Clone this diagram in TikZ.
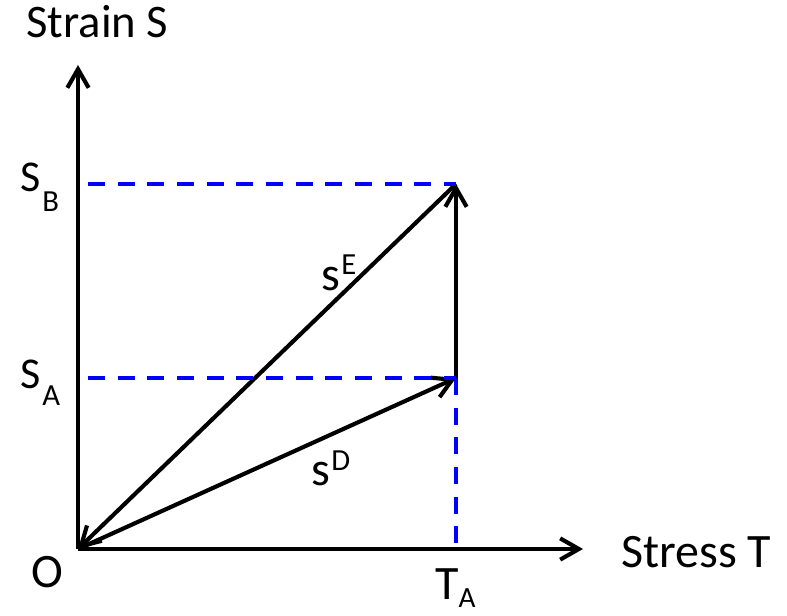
\documentclass[tikz,border=0pt]{standalone}
\usepackage{fontspec}
\setmainfont{Carlito}
\usetikzlibrary{arrows.meta}
\begin{document}
\begin{tikzpicture}[x=0.75pt,y=-0.75pt,
  blk/.style={line width=3.1pt,black},
  barb/.style={-{Straight Barb[length=14pt,width=16pt,line width=3.1pt]}},
  guide/.style={line width=2.8pt,blue,dash pattern=on 12.75pt off 9.5pt},
  lbl/.style={inner sep=0pt,anchor=base west}]
\useasboundingbox (0,0) rectangle (787,616);
\coordinate (O) at (78,549);
\coordinate (A) at (456,378);
\coordinate (B) at (456,184);
\coordinate (Ytip) at (78,65);
\coordinate (Xtip) at (583,549);
\coordinate (SAy) at (88,378);
\coordinate (SBy) at (88,184);
\coordinate (TAx) at (456,546);
% axes
\draw[blk,barb] (O) -- (Ytip);
\draw[blk,barb] (O) -- (Xtip);
% vectors
\draw[blk,barb] (B) -- (O);
\draw[blk,barb] (O) -- (A);
\draw[blk,barb] (A) -- (B);
% dashed guides
\draw[guide] (SBy) -- (B);
\draw[guide] (SAy) -- (A);
\draw[guide] (A) -- (TAx);
% labels
\node[lbl] (strain) at (26,38) {\fontsize{35pt}{35pt}\selectfont Strain S};
\node[lbl] (stress) at (621,567) {\fontsize{36pt}{36pt}\selectfont Stress T};
\node[lbl] (o) at (31,587) {\fontsize{36pt}{36pt}\selectfont O};
\node[lbl] (sb) at (20,192) {\fontsize{33pt}{33pt}\selectfont S\kern1.5pt\raisebox{-15pt}{\fontsize{23pt}{23pt}\selectfont B}};
\node[lbl] (sa) at (20,388) {\fontsize{33pt}{33pt}\selectfont S\kern1.5pt\raisebox{-13pt}{\fontsize{23pt}{23pt}\selectfont A}};
\node[lbl] (ta) at (435,599) {\fontsize{36pt}{36pt}\selectfont T\raisebox{-6pt}{\fontsize{22pt}{22pt}\selectfont A}};
\node[lbl] (sd) at (311,485) {\fontsize{36pt}{36pt}\selectfont s\kern1pt\raisebox{11pt}{\fontsize{23pt}{23pt}\selectfont D}};
\node[lbl] (se) at (321,290) {\fontsize{36pt}{36pt}\selectfont s\kern1pt\raisebox{12pt}{\fontsize{23pt}{23pt}\selectfont E}};
\end{tikzpicture}
\end{document}
